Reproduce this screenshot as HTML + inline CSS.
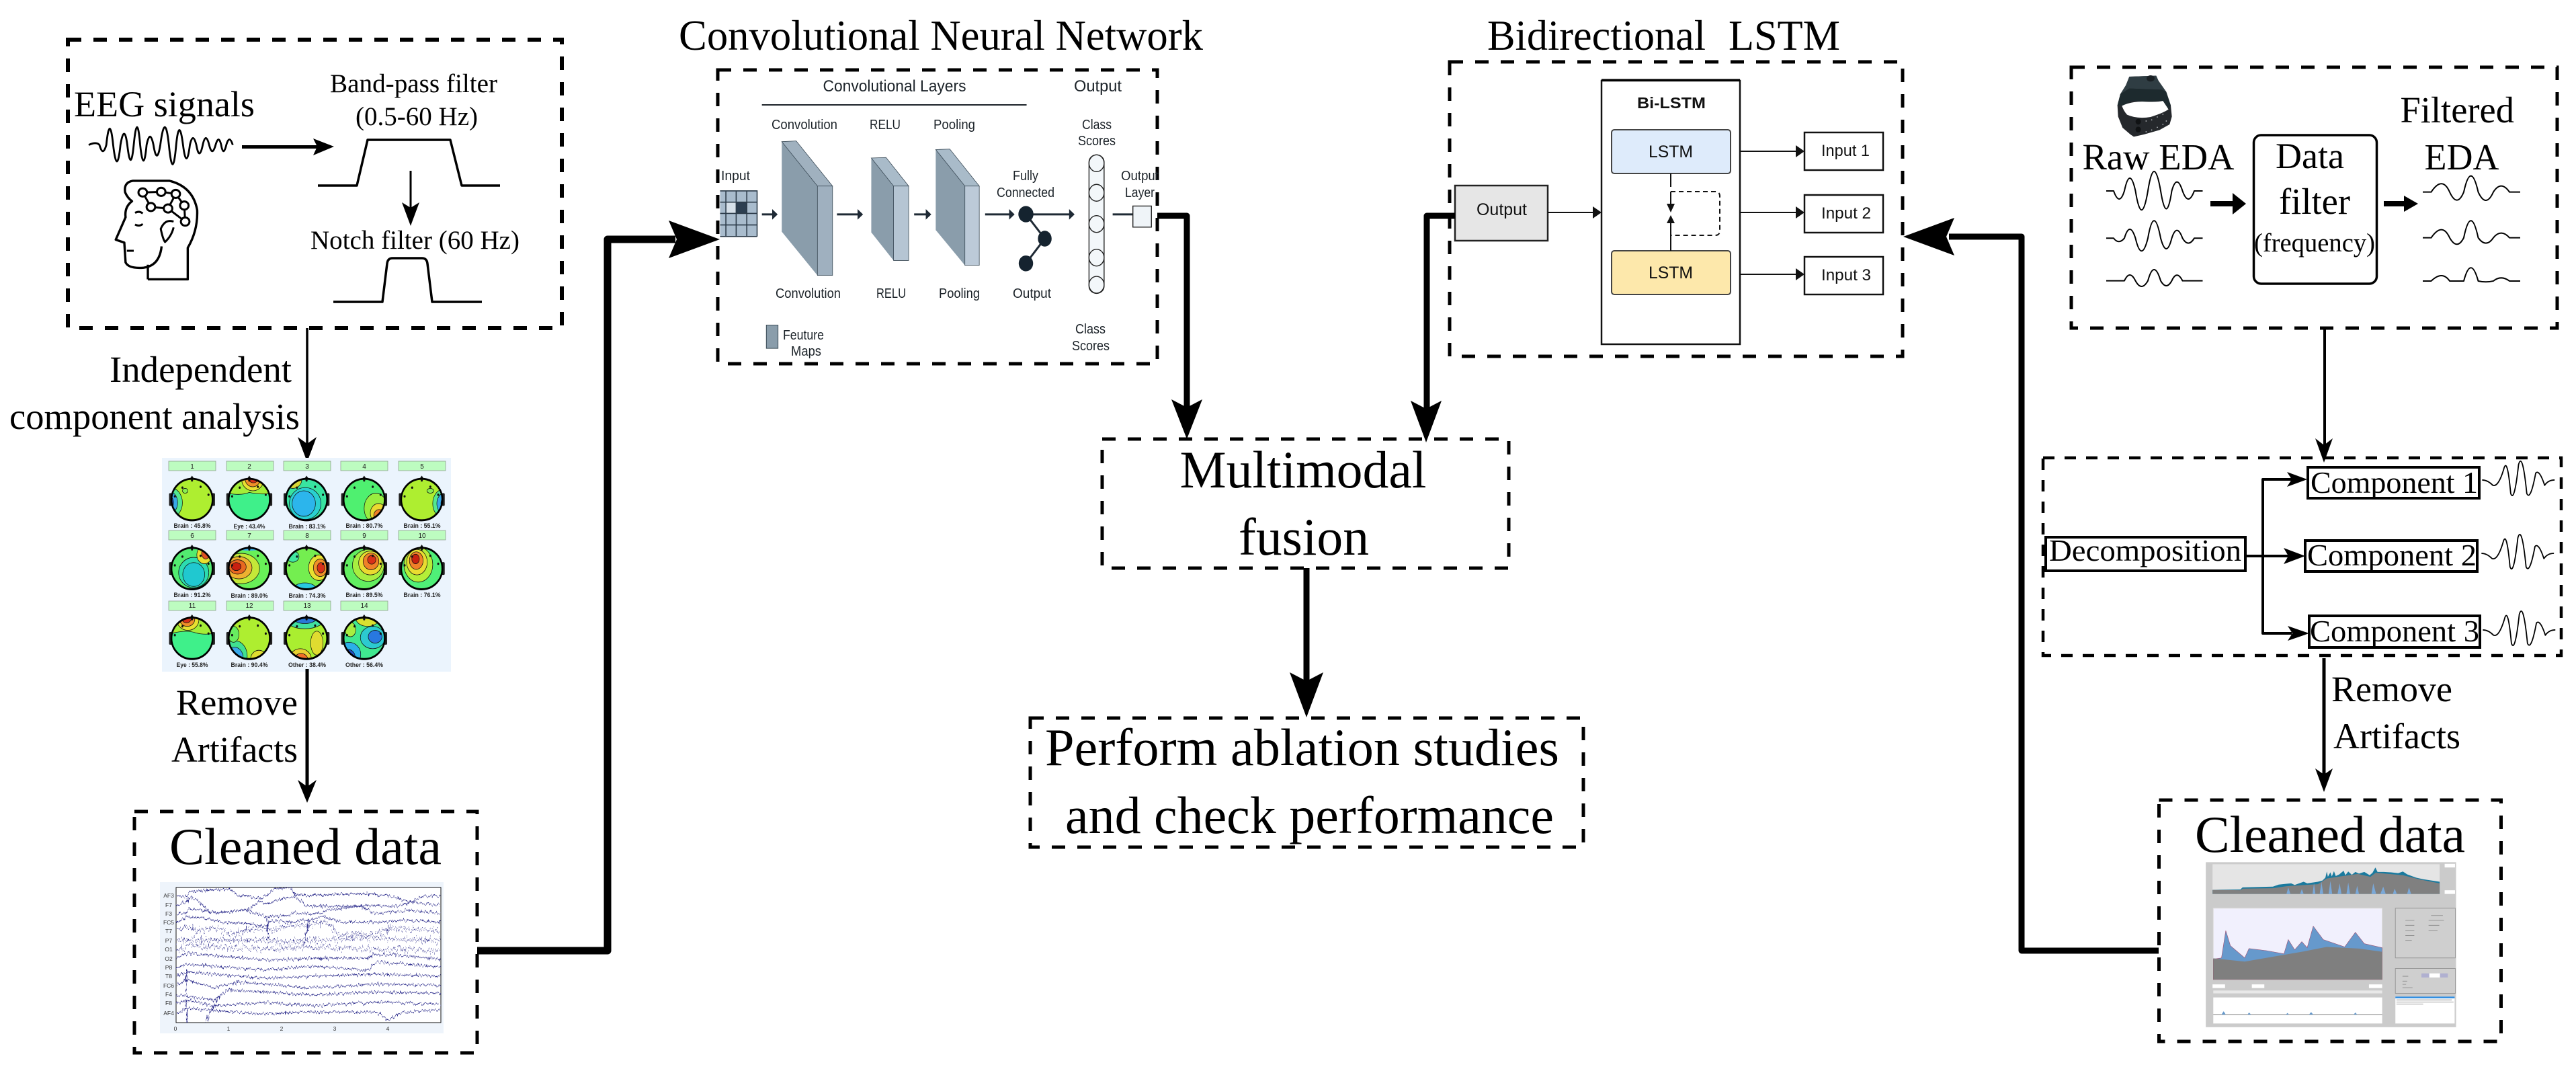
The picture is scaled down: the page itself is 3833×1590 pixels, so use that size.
<!DOCTYPE html>
<html lang="en">
<head>
<meta charset="utf-8">
<title>Multimodal fusion diagram</title>
<style>
html,body{margin:0;padding:0;background:#fff;width:3833px;height:1590px;overflow:hidden}
svg{display:block}
.t{font-family:"Liberation Serif",serif;fill:#000}
.s{font-family:"Liberation Sans",sans-serif;fill:#1c2329}
.d{fill:none;stroke:#000;stroke-width:5;stroke-dasharray:20 18}
.n *{vector-effect:non-scaling-stroke}
.l{fill:none;stroke:#000;stroke-linejoin:round;stroke-linecap:butt}
.b{stroke:#111;stroke-width:1.4}
</style>
</head>
<body>
<svg xmlns="http://www.w3.org/2000/svg" width="3833" height="1590" viewBox="0 0 3833 1590">
<defs>
<clipPath id="hc"><ellipse cx="0" cy="0" rx="60" ry="52"/></clipPath>
<clipPath id="ec"><rect x="262" y="1320" width="394" height="201"/></clipPath>
<filter id="noise" filterUnits="userSpaceOnUse" x="238" y="1312" width="422" height="225" color-interpolation-filters="sRGB">
<feTurbulence type="fractalNoise" baseFrequency="0.42 0.08" numOctaves="2" seed="4" result="n"/>
<feDisplacementMap in="SourceGraphic" in2="n" scale="10" xChannelSelector="G" yChannelSelector="R"/>
</filter>
<filter id="noise2" filterUnits="userSpaceOnUse" x="238" y="1312" width="422" height="225" color-interpolation-filters="sRGB">
<feTurbulence type="fractalNoise" baseFrequency="0.5 0.05" numOctaves="2" seed="9" result="n"/>
<feDisplacementMap in="SourceGraphic" in2="n" scale="22" xChannelSelector="G" yChannelSelector="R"/>
</filter>
<g id="o">
<path d="M-8,-50 L0,-60 L8,-50Z" fill="#111"/>
<rect x="-67" y="-16" width="9" height="32" rx="3" fill="#222"/>
<rect x="58" y="-16" width="9" height="32" rx="3" fill="#222"/>
<ellipse cx="0" cy="0" rx="60" ry="52" fill="none" stroke="#000" stroke-width="5"/>
<g fill="#111"><circle cx="-28" cy="-30" r="3"/><circle cx="25" cy="-32" r="3"/><circle cx="48" cy="-12" r="3"/><circle cx="-50" cy="-8" r="3"/><circle cx="0" cy="-48" r="3"/></g>
</g>
</defs>

<!-- EEG box -->
<rect class="d" style="stroke-width:6" x="101" y="59" width="735" height="429"/>
<text class="t" x="110" y="173" font-size="54" textLength="269" lengthAdjust="spacingAndGlyphs">EEG signals</text>
<text class="t" x="491" y="137" font-size="39" textLength="249" lengthAdjust="spacingAndGlyphs">Band-pass filter</text>
<text class="t" x="529" y="186" font-size="39" textLength="182" lengthAdjust="spacingAndGlyphs">(0.5-60 Hz)</text>
<text class="t" x="462" y="370" font-size="39" textLength="311" lengthAdjust="spacingAndGlyphs">Notch filter (60 Hz)</text>
<path class="l" stroke-width="3.5" d="M473,276H531L547,208H670L687,276H744"/>
<path class="l" stroke-width="3.5" d="M496,449H569L576,392Q577,384 584,384H628Q635,384 636,392L643,449H717"/>
<path d="M360,216H474V221H360Z"/><path d="M497,218L466,206L472,218L466,231Z"/>
<path class="l" stroke-width="3" d="M611,254V315"/><path d="M611,336L598,301L611,309L624,301Z"/>
<g class="n" transform="scale(.6378,.4337)">
<path class="l" style="stroke-width:2.8px" d="M207,497Q225,485 232,497Q240,540 248,497Q256,385 264,497Q273,610 281,497Q290,420 297,497Q305,600 312,497Q320,375 327,497Q335,605 342,497Q350,440 358,497Q366,570 374,497Q385,375 394,497Q403,630 411,497Q418,395 427,497Q435,590 443,497Q450,450 458,497Q465,555 473,497Q480,450 488,497Q495,540 503,497Q510,460 516,497Q521,540 528,497Q535,460 543,497"/>
<path class="l" style="stroke-width:3.4px" d="M345,958H438V850Q462,790 460,720Q450,640 395,620H310Q288,625 292,660Q298,680 308,690Q290,710 293,745L270,822L290,832L293,900Q300,922 335,918Q372,912 377,845M345,958V908"/>
<path class="l" style="stroke-width:3px" d="M296,860H312M315,730Q325,722 333,732M315,770Q325,778 333,768M405,760Q385,750 375,785Q380,820 385,830Q400,810 405,780"/>
<path class="l" style="stroke-width:3px" d="M333,660L376,658L410,665L430,705L432,760M410,665L392,715L352,710L333,660M392,715L432,760"/>
<g fill="#fff" stroke="#000" style="stroke-width:3px"><ellipse cx="333" cy="660" rx="10" ry="14"/><ellipse cx="376" cy="658" rx="10" ry="14"/><ellipse cx="410" cy="665" rx="10" ry="14"/><ellipse cx="430" cy="705" rx="10" ry="14"/><ellipse cx="352" cy="710" rx="10" ry="14"/><ellipse cx="392" cy="715" rx="10" ry="14"/><ellipse cx="432" cy="760" rx="10" ry="14"/></g>
</g>
<path class="l" stroke-width="3.5" d="M457,488V665"/><path d="M457,687L443,650L457,660L471,650Z"/>
<text class="t" x="163" y="568" font-size="55" textLength="271" lengthAdjust="spacingAndGlyphs">Independent</text>
<text class="t" x="14" y="638" font-size="55" textLength="432" lengthAdjust="spacingAndGlyphs">component analysis</text>

<!-- ICA image -->
<rect x="241" y="681" width="430" height="318" fill="#ebf4fd"/>
<g fill="#bdfcc0" stroke="#8fa08f" stroke-width=".8">
<rect x="251" y="686" width="70" height="14"/><rect x="337" y="686" width="70" height="14"/><rect x="422" y="686" width="70" height="14"/><rect x="507" y="686" width="70" height="14"/><rect x="593" y="686" width="70" height="14"/>
<rect x="251" y="789" width="70" height="14"/><rect x="337" y="789" width="70" height="14"/><rect x="422" y="789" width="70" height="14"/><rect x="507" y="789" width="70" height="14"/><rect x="593" y="789" width="70" height="14"/>
<rect x="251" y="894" width="70" height="14"/><rect x="337" y="894" width="70" height="14"/><rect x="422" y="894" width="70" height="14"/><rect x="507" y="894" width="70" height="14"/>
</g>
<g class="s" font-size="10" text-anchor="middle" style="fill:#222">
<text x="286" y="697">1</text><text x="371" y="697">2</text><text x="457" y="697">3</text><text x="542" y="697">4</text><text x="628" y="697">5</text>
<text x="286" y="800">6</text><text x="371" y="800">7</text><text x="457" y="800">8</text><text x="542" y="800">9</text><text x="628" y="800">10</text>
<text x="286" y="904">11</text><text x="371" y="904">12</text><text x="457" y="904">13</text><text x="542" y="904">14</text>
</g>
<g class="s" font-size="9.5" font-weight="bold" text-anchor="middle" style="fill:#222">
<text x="286" y="785" textLength="55" lengthAdjust="spacingAndGlyphs">Brain : 45.8%</text><text x="371" y="786" textLength="47" lengthAdjust="spacingAndGlyphs">Eye : 43.4%</text><text x="457" y="786" textLength="55" lengthAdjust="spacingAndGlyphs">Brain : 83.1%</text><text x="542" y="785" textLength="55" lengthAdjust="spacingAndGlyphs">Brain : 80.7%</text><text x="628" y="785" textLength="55" lengthAdjust="spacingAndGlyphs">Brain : 55.1%</text>
<text x="286" y="888" textLength="55" lengthAdjust="spacingAndGlyphs">Brain : 91.2%</text><text x="371" y="889" textLength="55" lengthAdjust="spacingAndGlyphs">Brain : 89.0%</text><text x="457" y="889" textLength="55" lengthAdjust="spacingAndGlyphs">Brain : 74.3%</text><text x="542" y="888" textLength="55" lengthAdjust="spacingAndGlyphs">Brain : 89.5%</text><text x="628" y="888" textLength="55" lengthAdjust="spacingAndGlyphs">Brain : 76.1%</text>
<text x="286" y="992" textLength="47" lengthAdjust="spacingAndGlyphs">Eye : 55.8%</text><text x="371" y="992" textLength="55" lengthAdjust="spacingAndGlyphs">Brain : 90.4%</text><text x="457" y="992" textLength="56" lengthAdjust="spacingAndGlyphs">Other : 38.4%</text><text x="542" y="992" textLength="56" lengthAdjust="spacingAndGlyphs">Other : 56.4%</text>
</g>
<g transform="translate(150,660) scale(.5102,.5931)">
<g transform="translate(266,140)"><g clip-path="url(#hc)"><rect x="-60" y="-52" width="120" height="104" fill="#aeee30"/><ellipse class="b" cx="-64" cy="8" rx="36" ry="38" fill="#52e890"/><ellipse class="b" cx="-66" cy="8" rx="24" ry="28" fill="#38a8e8"/><ellipse class="b" cx="-68" cy="8" rx="14" ry="18" fill="#2050c0"/><ellipse class="b" cx="-20" cy="-22" rx="8" ry="6" fill="#88ee50"/></g><use href="#o"/></g>
<g transform="translate(433,140)"><g clip-path="url(#hc)"><rect x="-60" y="-52" width="120" height="104" fill="#3ff08a"/><path class="b" d="M-60,-15Q-20,-10 0,-18Q30,-12 60,-15V-60H-60Z" fill="#a4ee38"/><ellipse class="b" cx="10" cy="-50" rx="32" ry="28" fill="#e8e030"/><ellipse class="b" cx="10" cy="-52" rx="22" ry="20" fill="#f09028"/><ellipse class="b" cx="12" cy="-54" rx="14" ry="12" fill="#d83018"/></g><use href="#o"/></g>
<g transform="translate(600,140)"><g clip-path="url(#hc)"><rect x="-60" y="-52" width="120" height="104" fill="#38e4a0"/><ellipse class="b" cx="-4" cy="10" rx="46" ry="40" fill="#2ad0d0"/><ellipse class="b" cx="-8" cy="10" rx="34" ry="32" fill="#2cb5ec"/><ellipse class="b" cx="-40" cy="-50" rx="26" ry="22" fill="#d8d838"/><ellipse class="b" cx="-44" cy="-52" rx="16" ry="14" fill="#e04020"/></g><use href="#o"/></g>
<g transform="translate(768,140)"><g clip-path="url(#hc)"><rect x="-60" y="-52" width="120" height="104" fill="#4ff070"/><ellipse class="b" cx="34" cy="22" rx="34" ry="38" fill="#98ee40"/><ellipse class="b" cx="42" cy="34" rx="24" ry="24" fill="#eada30"/><ellipse class="b" cx="44" cy="40" rx="16" ry="15" fill="#f08028"/><ellipse class="b" cx="46" cy="44" rx="9" ry="9" fill="#d83018"/></g><use href="#o"/></g>
<g transform="translate(936,140)"><g clip-path="url(#hc)"><rect x="-60" y="-52" width="120" height="104" fill="#aeee30"/><ellipse class="b" cx="64" cy="10" rx="32" ry="36" fill="#52e890"/><ellipse class="b" cx="66" cy="10" rx="22" ry="26" fill="#38a8e8"/><ellipse class="b" cx="68" cy="10" rx="12" ry="16" fill="#2050c0"/><ellipse class="b" cx="25" cy="-22" rx="10" ry="6" fill="#88ee50"/></g><use href="#o"/></g>

<g transform="translate(266,313)"><g clip-path="url(#hc)"><rect x="-60" y="-52" width="120" height="104" fill="#52ec70"/><ellipse class="b" cx="5" cy="10" rx="44" ry="38" fill="#2cdcb0"/><ellipse class="b" cx="5" cy="15" rx="32" ry="30" fill="#20c8d0"/><ellipse class="b" cx="36" cy="-34" rx="22" ry="22" fill="#e8e030"/><ellipse class="b" cx="40" cy="-38" rx="12" ry="14" fill="#e05020"/></g><use href="#o"/></g>
<g transform="translate(433,313)"><g clip-path="url(#hc)"><rect x="-60" y="-52" width="120" height="104" fill="#68f058"/><ellipse class="b" cx="-24" cy="0" rx="54" ry="38" fill="#c4e838"/><ellipse class="b" cx="-30" cy="-2" rx="38" ry="28" fill="#eeb030"/><ellipse class="b" cx="-34" cy="-4" rx="25" ry="18" fill="#e86820"/><ellipse class="b" cx="-38" cy="-5" rx="14" ry="10" fill="#c82010"/><ellipse cx="0" cy="-55" rx="50" ry="10" fill="#38b0e8"/></g><use href="#o"/></g>
<g transform="translate(600,313)"><g clip-path="url(#hc)"><rect x="-60" y="-52" width="120" height="104" fill="#74ee50"/><ellipse class="b" cx="36" cy="-2" rx="30" ry="32" fill="#e8e030"/><ellipse class="b" cx="40" cy="-2" rx="20" ry="22" fill="#f09028"/><ellipse class="b" cx="42" cy="-2" rx="11" ry="13" fill="#d83018"/><ellipse class="b" cx="-5" cy="50" rx="32" ry="14" fill="#28c8e0"/><ellipse class="b" cx="-40" cy="-30" rx="18" ry="14" fill="#40e8a0"/></g><use href="#o"/></g>
<g transform="translate(768,313)"><g clip-path="url(#hc)"><rect x="-60" y="-52" width="120" height="104" fill="#62ee60"/><ellipse class="b" cx="12" cy="-8" rx="46" ry="40" fill="#a8ee40"/><ellipse class="b" cx="18" cy="-14" rx="34" ry="30" fill="#eada30"/><ellipse class="b" cx="20" cy="-18" rx="23" ry="21" fill="#f08028"/><ellipse class="b" cx="22" cy="-22" rx="12" ry="11" fill="#d83018"/></g><use href="#o"/></g>
<g transform="translate(936,313)"><g clip-path="url(#hc)"><rect x="-60" y="-52" width="120" height="104" fill="#4ff078"/><ellipse class="b" cx="-10" cy="-10" rx="42" ry="44" fill="#b4ee38"/><ellipse class="b" cx="-14" cy="-16" rx="30" ry="32" fill="#eadc30"/><ellipse class="b" cx="-16" cy="-20" rx="20" ry="22" fill="#f08028"/><ellipse class="b" cx="-18" cy="-24" rx="11" ry="12" fill="#c82010"/></g><use href="#o"/></g>

<g transform="translate(266,488)"><g clip-path="url(#hc)"><rect x="-60" y="-52" width="120" height="104" fill="#3ff08a"/><path class="b" d="M-60,-12Q-20,-22 10,-14Q35,-8 60,-12V-60H-60Z" fill="#a4ee38"/><ellipse class="b" cx="-12" cy="-46" rx="32" ry="26" fill="#e8e030"/><ellipse class="b" cx="-14" cy="-48" rx="22" ry="18" fill="#f09028"/><ellipse class="b" cx="-16" cy="-50" rx="14" ry="11" fill="#d83018"/></g><use href="#o"/></g>
<g transform="translate(433,488)"><g clip-path="url(#hc)"><rect x="-60" y="-52" width="120" height="104" fill="#aeee30"/><ellipse class="b" cx="-42" cy="44" rx="36" ry="38" fill="#40e090"/><ellipse class="b" cx="-44" cy="48" rx="26" ry="26" fill="#38a8e8"/><ellipse class="b" cx="-46" cy="52" rx="16" ry="15" fill="#2050c0"/><ellipse class="b" cx="28" cy="52" rx="24" ry="22" fill="#e0dc30"/><ellipse class="b" cx="-46" cy="-10" rx="16" ry="20" fill="#68ec60"/></g><use href="#o"/></g>
<g transform="translate(600,488)"><g clip-path="url(#hc)"><rect x="-60" y="-52" width="120" height="104" fill="#aaee30"/><ellipse class="b" cx="-5" cy="-52" rx="60" ry="28" fill="#40e0a0"/><ellipse class="b" cx="-5" cy="-55" rx="38" ry="18" fill="#2878d8"/><ellipse class="b" cx="-18" cy="52" rx="32" ry="26" fill="#e8d030"/><ellipse class="b" cx="-16" cy="54" rx="20" ry="16" fill="#f07028"/><ellipse class="b" cx="30" cy="12" rx="18" ry="30" fill="#e0dc30"/></g><use href="#o"/></g>
<g transform="translate(768,488)"><g clip-path="url(#hc)"><rect x="-60" y="-52" width="120" height="104" fill="#40e890"/><ellipse class="b" cx="25" cy="-2" rx="36" ry="28" fill="#2ccad0"/><ellipse class="b" cx="32" cy="-4" rx="20" ry="16" fill="#2878e0"/><ellipse class="b" cx="-44" cy="40" rx="34" ry="30" fill="#2cb0e8"/><ellipse class="b" cx="-46" cy="48" rx="20" ry="20" fill="#2050c0"/><ellipse class="b" cx="10" cy="-50" rx="34" ry="20" fill="#d8e030"/><ellipse class="b" cx="-40" cy="-22" rx="16" ry="18" fill="#a8ee40"/></g><use href="#o"/></g>
</g>

<path class="l" stroke-width="5" d="M457,995V1170"/><path d="M457,1194L443,1160L457,1170L471,1160Z"/>
<text class="t" x="262" y="1063" font-size="54" textLength="181" lengthAdjust="spacingAndGlyphs">Remove</text>
<text class="t" x="255" y="1133" font-size="54" textLength="188" lengthAdjust="spacingAndGlyphs">Artifacts</text>

<!-- Cleaned EEG -->
<rect class="d" x="200" y="1207" width="510" height="359"/>
<text class="t" x="252" y="1285" font-size="77" textLength="405" lengthAdjust="spacingAndGlyphs">Cleaned data</text>
<rect x="238" y="1312" width="422" height="225" fill="#eef4fb"/>
<rect x="262" y="1320" width="394" height="201" fill="#fff" stroke="#111" stroke-width="1"/>
<g clip-path="url(#ec)">
<g filter="url(#noise)"><g class="n" transform="translate(150,660) scale(.5102,.5931)" fill="none" stroke="#2c2c8c" style="stroke-width:1.2px">
<polyline points="219,1135 249,1135 259,1123 376,1116 396,1132 468,1141 507,1116 553,1113 566,1132 650,1132 760,1128 850,1135 900,1150 940,1135 990,1135"/>
<polyline points="219,1155 249,1152 255,1138 282,1144 317,1175 357,1175 428,1169 461,1147 494,1152 527,1141 566,1135 595,1158 620,1160 700,1160 780,1158 860,1160 910,1150 990,1158"/>
<polyline points="219,1180 249,1177 255,1166 291,1169 331,1177 422,1169 481,1186 546,1183 566,1175 611,1180 700,1165 760,1160 800,1178 900,1170 990,1178"/>
<polyline points="219,1200 252,1186 298,1189 350,1200 428,1203 481,1211 494,1197 566,1200 611,1194 650,1185 700,1200 800,1200 900,1195 990,1200"/>
<polyline points="219,1290 255,1278 480,1295 620,1290 780,1290 800,1280 860,1282 990,1292"/>
<polyline points="219,1315 250,1305 480,1320 620,1310 780,1320 800,1300 990,1312"/>
<polyline points="219,1335 250,1325 480,1340 620,1335 800,1330 990,1335"/>
<polyline points="219,1360 250,1345 330,1365 400,1350 480,1355 600,1365 800,1355 990,1358"/>
<polyline points="219,1382 250,1385 330,1395 370,1370 480,1375 620,1382 800,1375 990,1378"/>
<polyline points="219,1405 250,1395 330,1410 480,1400 620,1410 800,1400 990,1405"/>
<polyline points="219,1430 250,1415 310,1420 480,1430 620,1425 800,1425 840,1445 880,1425 990,1420"/>
<polyline points="250,1320 250,1452"/><polyline points="305,1452 345,1385"/><polyline points="487,1186 487,1265"/><polyline points="608,1192 592,1259"/>
</g></g>
<g filter="url(#noise2)"><g class="n" transform="translate(150,660) scale(.5102,.5931)" fill="none" stroke="#2c2c8c" style="stroke-width:1.2px">
<polyline points="219,1220 252,1211 285,1222 317,1214 350,1217 389,1231 428,1217 481,1217 500,1220 546,1208 611,1205 660,1200 690,1230 800,1230 840,1215 990,1222"/>
<polyline points="219,1245 300,1245 480,1245 540,1250 600,1245 800,1240 990,1247"/>
<polyline points="219,1268 260,1258 480,1268 600,1262 800,1268 990,1270"/>
</g></g>
</g>
<g class="s" font-size="8.5" text-anchor="middle" style="fill:#333">
<text x="251" y="1335">AF3</text><text x="251" y="1349">F7</text><text x="251" y="1362">F3</text><text x="251" y="1375">FC5</text><text x="251" y="1388">T7</text><text x="251" y="1402">P7</text><text x="251" y="1415">O1</text><text x="251" y="1429">O2</text><text x="251" y="1442">P8</text><text x="251" y="1455">T8</text><text x="251" y="1469">FC6</text><text x="251" y="1482">F4</text><text x="251" y="1495">F8</text><text x="251" y="1510">AF4</text>
<text x="261" y="1533">0</text><text x="340" y="1533">1</text><text x="419" y="1533">2</text><text x="498" y="1533">3</text><text x="577" y="1533">4</text>
</g>

<!-- Thick connector left -->
<path class="l" stroke-width="11" stroke-linejoin="miter" d="M710,1414H904V356H1005"/>
<path d="M1071,356L995,328L1007,356L995,384Z"/>

<!-- CNN -->
<text class="t" x="1010" y="74" font-size="63" textLength="780" lengthAdjust="spacingAndGlyphs">Convolutional Neural Network</text>
<rect class="d" x="1068" y="104" width="654" height="437"/>
<g class="s" font-size="20">
<text x="1224.5" y="136" font-size="24" textLength="213" lengthAdjust="spacingAndGlyphs">Convolutional Layers</text>
<text x="1598" y="136" font-size="24" textLength="71" lengthAdjust="spacingAndGlyphs">Output</text>
<text x="1148" y="192" textLength="98" lengthAdjust="spacingAndGlyphs">Convolution</text>
<text x="1294" y="192" textLength="46" lengthAdjust="spacingAndGlyphs">RELU</text>
<text x="1389" y="192" textLength="62" lengthAdjust="spacingAndGlyphs">Pooling</text>
<text x="1610" y="192" textLength="44" lengthAdjust="spacingAndGlyphs">Class</text>
<text x="1604" y="216" textLength="56" lengthAdjust="spacingAndGlyphs">Scores</text>
<text x="1073" y="268" textLength="43" lengthAdjust="spacingAndGlyphs">Input</text>
<text x="1507" y="268" textLength="38" lengthAdjust="spacingAndGlyphs">Fully</text>
<text x="1483" y="293" textLength="86" lengthAdjust="spacingAndGlyphs">Connected</text>
<text x="1668" y="268" textLength="56" lengthAdjust="spacingAndGlyphs">Output</text>
<text x="1674" y="293" textLength="44" lengthAdjust="spacingAndGlyphs">Layer</text>
<text x="1154" y="443" textLength="97" lengthAdjust="spacingAndGlyphs">Convolution</text>
<text x="1304" y="443" textLength="44" lengthAdjust="spacingAndGlyphs">RELU</text>
<text x="1397" y="443" textLength="61" lengthAdjust="spacingAndGlyphs">Pooling</text>
<text x="1507" y="443" textLength="57" lengthAdjust="spacingAndGlyphs">Output</text>
<text x="1165" y="505" textLength="61" lengthAdjust="spacingAndGlyphs">Feuture</text>
<text x="1177" y="529" textLength="45" lengthAdjust="spacingAndGlyphs">Maps</text>
<text x="1600" y="496" textLength="45" lengthAdjust="spacingAndGlyphs">Class</text>
<text x="1595" y="521" textLength="56" lengthAdjust="spacingAndGlyphs">Scores</text>
</g>
<g class="n" transform="translate(1000,0) scale(.5102,.3571)">
<path d="M262,437H1034" stroke="#1c2329" style="stroke-width:2px"/>
<rect x="140" y="793" width="108" height="192" fill="#a9bccd"/>
<rect x="157" y="842" width="30" height="47" fill="#d6e0e9"/>
<rect x="187" y="842" width="31" height="47" fill="#2c3e50"/>
<path d="M157,793V985M187,793V985M218,793V985M248,793V985M140,795H248M140,842H248M140,889H248M140,937H248M140,985H248" stroke="#2b3a48" fill="none" style="stroke-width:1.6px"/>
<path d="M320,590L424,775V1147L320,965Z" fill="#8a9dab"/>
<path d="M320,590L362,587L468,775H424Z" fill="#a0b1bf" stroke="#3a4a56" style="stroke-width:.8px"/>
<path d="M424,775H468V1147H424Z" fill="#9fb0bf" stroke="#3a4a56" style="stroke-width:.8px"/>
<path d="M581,658L646,775V1085L581,968Z" fill="#8a9dab"/>
<path d="M581,658L624,656L690,775H646Z" fill="#a9bbc9" stroke="#3a4a56" style="stroke-width:.8px"/>
<path d="M646,775H690V1085H646Z" fill="#b5c5d3" stroke="#3a4a56" style="stroke-width:.8px"/>
<path d="M769,623L854,775V1105L769,958Z" fill="#8a9dab"/>
<path d="M769,623L810,621L896,775H854Z" fill="#a9bbc9" stroke="#3a4a56" style="stroke-width:.8px"/>
<path d="M854,775H896V1105H854Z" fill="#bccad8" stroke="#3a4a56" style="stroke-width:.8px"/>
<g fill="none" stroke="#1f2a35" style="stroke-width:3px"><path d="M262,893H300M481,893H548M706,893H747M913,893H990M1050,893H1165"/><path d="M1032,892L1087,994L1032,1097"/><path d="M1285,893H1345"/></g>
<g fill="#1f2a35"><path d="M308,893L292,871V915Z"/><path d="M557,893L541,871V915Z"/><path d="M756,893L740,871V915Z"/><path d="M999,893L983,871V915Z"/><path d="M1174,893L1158,871V915Z"/></g>
<g fill="#15232f"><ellipse cx="1032" cy="892" rx="22" ry="34"/><ellipse cx="1087" cy="994" rx="20" ry="33"/><ellipse cx="1032" cy="1097" rx="21" ry="33"/></g>
<rect x="1216" y="645" width="44" height="577" rx="22" ry="30" fill="#f3f7fa" stroke="#222" style="stroke-width:1.4px"/>
<g fill="#f3f7fa" stroke="#222" style="stroke-width:1.4px"><ellipse cx="1238" cy="680" rx="22" ry="35"/><ellipse cx="1238" cy="803" rx="22" ry="35"/><ellipse cx="1238" cy="933" rx="22" ry="35"/><ellipse cx="1238" cy="1073" rx="22" ry="35"/><ellipse cx="1238" cy="1186" rx="22" ry="35"/></g>
<rect x="1344" y="858" width="54" height="88" fill="#eff4f8" stroke="#222" style="stroke-width:1.4px"/>
<rect x="275" y="1354" width="34" height="97" fill="#8a9dab" stroke="#3a4a56" style="stroke-width:1px"/>
</g>
<path class="l" stroke-width="9" stroke-linejoin="miter" d="M1722,321H1766V610"/>
<path d="M1766,653L1743,594L1766,606L1789,594Z"/>

<!-- BiLSTM -->
<text class="t" x="2213" y="74" font-size="63" textLength="325" lengthAdjust="spacingAndGlyphs">Bidirectional</text>
<text class="t" x="2572" y="74" font-size="63" textLength="166" lengthAdjust="spacingAndGlyphs">LSTM</text>
<rect class="d" x="2157" y="92" width="674" height="438"/>
<rect x="2165" y="276" width="138" height="82" fill="#e6e6e6" stroke="#222" stroke-width="2.5"/>
<rect x="2383" y="120" width="206" height="392" fill="#fff" stroke="#111" stroke-width="2.5"/>
<path d="M2383,119H2589" stroke="#000" stroke-width="3"/>
<rect x="2398" y="193" width="177" height="65" rx="4" fill="#deebfb" stroke="#444" stroke-width="2"/>
<rect x="2398" y="373" width="177" height="65" rx="4" fill="#fde8ab" stroke="#444" stroke-width="2"/>
<rect x="2685" y="197" width="117" height="56" fill="#fff" stroke="#111" stroke-width="2.5"/>
<rect x="2685" y="290" width="117" height="56" fill="#fff" stroke="#111" stroke-width="2.5"/>
<rect x="2685" y="382" width="117" height="56" fill="#fff" stroke="#111" stroke-width="2.5"/>
<g class="s" style="fill:#111">
<text x="2197" y="320" font-size="25" textLength="75" lengthAdjust="spacingAndGlyphs">Output</text>
<text x="2436" y="161" font-size="23" font-weight="bold" textLength="102" lengthAdjust="spacingAndGlyphs">Bi-LSTM</text>
<text x="2453" y="234" font-size="25" textLength="66" lengthAdjust="spacingAndGlyphs">LSTM</text>
<text x="2453" y="414" font-size="25" textLength="66" lengthAdjust="spacingAndGlyphs">LSTM</text>
<text x="2710" y="232" font-size="24" textLength="72" lengthAdjust="spacingAndGlyphs">Input 1</text>
<text x="2710" y="325" font-size="24" textLength="74" lengthAdjust="spacingAndGlyphs">Input 2</text>
<text x="2710" y="417" font-size="24" textLength="74" lengthAdjust="spacingAndGlyphs">Input 3</text>
</g>
<g fill="none" stroke="#111" stroke-width="2">
<path d="M2303,316H2375M2589,225H2678M2589,316H2678M2589,408H2678"/>
<path d="M2486,258V278M2486,285V310M2486,373V325"/>
<path d="M2486,285H2552Q2559,285 2559,292V343Q2559,350 2552,350H2486" stroke-dasharray="7 5"/>
</g>
<g fill="#111"><path d="M2383,316L2370,307V325Z"/><path d="M2685,225L2672,216V234Z"/><path d="M2685,316L2672,307V325Z"/><path d="M2685,408L2672,399V417Z"/><path d="M2486,316L2480,303H2492Z"/><path d="M2486,320L2480,332H2492Z"/></g>
<path class="l" stroke-width="9" stroke-linejoin="miter" d="M2165,321H2123V612"/>
<path d="M2122,658L2099,596L2122,608L2145,596Z"/>

<!-- Multimodal -->
<rect class="d" x="1640" y="653" width="605" height="192"/>
<text class="t" x="1755.5" y="725" font-size="78" textLength="367" lengthAdjust="spacingAndGlyphs">Multimodal</text>
<text class="t" x="1843" y="825" font-size="78" textLength="194" lengthAdjust="spacingAndGlyphs">fusion</text>
<path class="l" stroke-width="9" d="M1944,845V1020"/>
<path d="M1944,1067L1919,1000L1944,1013L1969,1000Z"/>
<rect class="d" x="1533" y="1068" width="823" height="192"/>
<text class="t" x="1555" y="1138" font-size="78" textLength="765" lengthAdjust="spacingAndGlyphs">Perform ablation studies</text>
<text class="t" x="1585" y="1239" font-size="78" textLength="727" lengthAdjust="spacingAndGlyphs">and check performance</text>

<!-- EDA -->
<rect class="d" x="3082" y="100" width="723" height="388"/>
<g class="n" transform="translate(3130,100) scale(.3333)">
<path fill-rule="evenodd" fill="#25282c" d="M115,42L235,38L245,60L280,110L300,170L305,220L295,255L250,280L180,300L135,310L120,300L85,270L65,220L62,170L75,120L100,80ZM82,172Q130,150 190,154Q245,156 265,150Q282,170 290,188Q265,205 210,222Q150,232 105,212Q90,195 82,172Z"/>
<path fill="#2f3d43" d="M115,42L235,38L245,60L280,110L260,100L115,95L75,120L100,80Z"/>
<path fill="#1d2a2e" d="M115,95L260,100L280,110L300,170L290,188L265,150Q190,156 130,150L82,172L62,170L75,120Z"/>
<ellipse cx="210" cy="50" rx="18" ry="14" fill="#192024"/>
<ellipse cx="155" cy="243" rx="12" ry="13" fill="#101214"/><ellipse cx="155" cy="278" rx="12" ry="13" fill="#101214"/>
<g fill="#c8ccd0"><circle cx="190" cy="240" r="2.5"/><circle cx="215" cy="235" r="2.5"/><circle cx="240" cy="222" r="2.5"/><circle cx="265" cy="210" r="2.5"/><circle cx="190" cy="288" r="2.5"/><circle cx="215" cy="280" r="2.5"/><circle cx="240" cy="268" r="2.5"/><circle cx="265" cy="255" r="2.5"/><circle cx="280" cy="240" r="2.5"/></g>
</g>
<text class="t" x="3098.5" y="252" font-size="55" textLength="226" lengthAdjust="spacingAndGlyphs">Raw EDA</text>
<rect x="3353.5" y="201" width="183" height="221" rx="11" fill="none" stroke="#000" stroke-width="3.5"/>
<text class="t" x="3386" y="250" font-size="54" textLength="102" lengthAdjust="spacingAndGlyphs">Data</text>
<text class="t" x="3391" y="318" font-size="55" textLength="106" lengthAdjust="spacingAndGlyphs">filter</text>
<text class="t" x="3354" y="374" font-size="39" textLength="180" lengthAdjust="spacingAndGlyphs">(frequency)</text>
<text class="t" x="3571.5" y="182" font-size="55" textLength="169.5" lengthAdjust="spacingAndGlyphs">Filtered</text>
<text class="t" x="3607.5" y="252" font-size="55" textLength="111" lengthAdjust="spacingAndGlyphs">EDA</text>
<g class="n" transform="translate(3050,60) scale(.5,.3333)">
<g class="l" style="stroke-width:2px">
<path d="M168,672H190Q207,744 222,672Q238,558 255,672Q273,842 292,672Q310,498 330,672Q347,832 363,672Q378,592 395,672Q412,744 430,672H455"/>
<path d="M168,883H190Q205,913 222,883Q238,803 255,883Q273,997 292,883Q310,727 330,883Q347,977 363,883Q378,813 395,883Q412,927 430,883H455"/>
<path d="M168,1073H222Q238,1021 255,1073Q273,1123 292,1073Q310,973 330,1073Q347,1117 363,1073Q378,1023 395,1073H455"/>
<path d="M1110,677H1135Q1168,603 1190,677Q1212,749 1232,677Q1253,533 1275,677Q1298,751 1320,677Q1343,623 1368,677H1400"/>
<path d="M1110,881H1135Q1168,809 1190,881Q1212,939 1232,881Q1253,729 1275,881Q1298,929 1320,881Q1343,839 1368,881H1400"/>
<path d="M1110,1074H1135Q1168,1026 1190,1074Q1212,1074 1232,1074Q1253,956 1275,1074Q1298,1082 1320,1074Q1343,1046 1368,1074H1400"/>
</g>
</g>
<path d="M3289,299H3322V287L3342,303L3322,319V307H3289Z"/>
<path d="M3547,299H3577V291L3598,303L3577,315V307H3547Z"/>
<path class="l" stroke-width="4" d="M3459,488V670"/><path d="M3458,688L3445,652L3458,662L3471,652Z"/>

<!-- Decomposition -->
<rect class="d" style="stroke-dasharray:17 15;stroke-width:4.5" x="3040" y="681" width="771" height="294"/>
<g fill="#fff" stroke="#000" stroke-width="4">
<rect x="3434" y="695" width="255" height="46"/><rect x="3430" y="804" width="256" height="46"/><rect x="3436" y="916" width="254" height="47"/><rect x="3044" y="799" width="297" height="50"/>
</g>
<text class="t" x="3438" y="733" font-size="46" textLength="249" lengthAdjust="spacingAndGlyphs">Component 1</text>
<text class="t" x="3433" y="841" font-size="46" textLength="252" lengthAdjust="spacingAndGlyphs">Component 2</text>
<text class="t" x="3437" y="954" font-size="46" textLength="252" lengthAdjust="spacingAndGlyphs">Component 3</text>
<text class="t" x="3049" y="834" font-size="46" textLength="286" lengthAdjust="spacingAndGlyphs">Decomposition</text>
<path class="l" stroke-width="4" d="M3341,827H3410M3410,713H3367V942H3410"/>
<path d="M3433,713L3403,702L3410,713L3403,724Z"/><path d="M3430,827L3398,815L3405,827L3398,839Z"/><path d="M3436,942L3404,931L3411,942L3404,953Z"/>
<g class="n" transform="translate(3000,640) scale(.5313,.606)">
<path class="l" style="stroke-width:1.8px" d="M1305,122Q1320,122 1335,135Q1350,140 1365,97Q1375,60 1385,155Q1395,180 1407,84Q1418,50 1430,155Q1440,175 1455,105Q1465,95 1480,135Q1490,122 1508,122"/>
<path class="l" style="stroke-width:1.8px" transform="translate(-2,180)" d="M1305,122Q1320,122 1335,135Q1350,140 1365,97Q1375,60 1385,155Q1395,180 1407,84Q1418,50 1430,155Q1440,175 1455,105Q1465,95 1480,135Q1490,122 1508,122"/>
<path class="l" style="stroke-width:1.8px" transform="translate(2,368)" d="M1305,122Q1320,122 1335,135Q1350,140 1365,97Q1375,60 1385,155Q1395,180 1407,84Q1418,50 1430,155Q1440,175 1455,105Q1465,95 1480,135Q1490,122 1508,122"/>
</g>
<path class="l" stroke-width="5" d="M3458,979V1155"/><path d="M3458,1178L3445,1143L3458,1152L3471,1143Z"/>
<text class="t" x="3469" y="1043" font-size="54" textLength="180" lengthAdjust="spacingAndGlyphs">Remove</text>
<text class="t" x="3472" y="1113" font-size="54" textLength="189" lengthAdjust="spacingAndGlyphs">Artifacts</text>

<!-- Cleaned EDA -->
<rect class="d" x="3212.5" y="1190" width="509" height="359"/>
<text class="t" x="3266" y="1267" font-size="77" textLength="402" lengthAdjust="spacingAndGlyphs">Cleaned data</text>
<g class="n" transform="translate(3000,640) scale(.5313,.606)">
<rect x="531" y="1060" width="701" height="405" fill="#cbcbcb"/>
<rect x="550" y="1065" width="636" height="73" fill="#e5e5e5"/>
<polygon fill="#1a7a9e" points="550,1128 628,1127 634,1122 719,1120 735,1115 757,1113 770,1112 780,1116 805,1108 815,1112 845,1108 858,1105 866,1098 870,1083 873,1096 880,1085 884,1095 890,1082 895,1094 905,1090 917,1081 922,1092 930,1083 940,1091 950,1084 960,1088 975,1084 990,1092 998,1086 1006,1073 1012,1084 1030,1084 1050,1085 1070,1087 1083,1083 1095,1090 1120,1098 1140,1102 1186,1108 1186,1138 550,1138"/>
<polygon fill="#808080" points="550,1128 628,1129 634,1125 719,1124 757,1119 845,1114 870,1100 907,1095 957,1089 992,1096 1007,1086 1083,1092 1133,1103 1186,1112 1186,1138 550,1138"/>
<polygon fill="#7aa8d8" points="757,1138 762,1122 768,1138 795,1138 800,1126 805,1138 830,1138 834,1112 838,1138 850,1138 855,1108 860,1138 875,1138 880,1106 885,1138 900,1138 906,1112 911,1138 925,1138 930,1110 935,1138 950,1138 955,1118 960,1138 995,1138 1000,1112 1008,1138 1020,1138 1028,1120 1035,1138 1055,1138 1060,1125 1066,1138 1095,1138 1100,1122 1106,1138"/>
<rect x="1200" y="1064" width="29" height="9" fill="#fff"/><rect x="1200" y="1129" width="29" height="9" fill="#fff"/>
<rect x="552" y="1173" width="473" height="175" fill="#f1f0fd" stroke="#ddd" style="stroke-width:1px"/>
<polygon fill="#6699cc" stroke="#a05070" style="stroke-width:.6px" points="552,1298 575,1295 587,1228 600,1265 640,1295 652,1272 700,1277 750,1285 762,1250 780,1275 800,1255 815,1270 832,1217 860,1250 920,1268 950,1232 975,1260 1025,1270 1025,1348 552,1348"/>
<polygon fill="#7f7f7f" points="552,1296 640,1304 700,1295 800,1280 870,1268 960,1272 1025,1280 1025,1348 552,1348"/>
<g fill="#fff"><rect x="550" y="1360" width="35" height="9"/><rect x="660" y="1360" width="35" height="9"/><rect x="988" y="1360" width="37" height="9"/></g>
<rect x="552" y="1375" width="473" height="7" fill="#e8e8e8"/>
<rect x="552" y="1392" width="473" height="64" fill="#fff"/>
<path d="M552,1434H1025" stroke="#555" fill="none" style="stroke-width:.8px"/>
<g fill="#6699cc"><path d="M575,1434L581,1426L587,1434Z"/><path d="M648,1434L652,1429L658,1434Z"/><path d="M755,1434L760,1430L764,1434Z"/><path d="M820,1434L826,1428L832,1434Z"/><path d="M945,1434L950,1429L955,1434Z"/></g>
<rect x="1062" y="1173" width="168" height="122" fill="#cfcfcf" stroke="#999" style="stroke-width:1px"/>
<rect x="1062" y="1321" width="168" height="61" fill="#cfcfcf" stroke="#999" style="stroke-width:1px"/>
<rect x="1135" y="1333" width="22" height="10" fill="#b0b0d0"/><rect x="1157" y="1333" width="30" height="10" fill="#fff"/><rect x="1187" y="1333" width="22" height="10" fill="#b0b0d0"/>
<rect x="1062" y="1390" width="166" height="66" fill="#fff"/><rect x="1062" y="1390" width="166" height="4" fill="#2b8be0"/>
<g stroke="#888" fill="none" style="stroke-width:.8px"><path d="M1090,1203H1115M1090,1215H1115M1090,1228H1115M1090,1240H1115M1090,1252H1108M1162,1191H1195M1155,1203H1198M1155,1215H1185M1155,1228H1180M1082,1340H1098M1082,1352H1095M1082,1360H1092M1082,1368H1110M1065,1398H1220M1065,1403H1225M1065,1408H1140"/></g>
</g>
<path class="l" stroke-width="9" stroke-linejoin="miter" d="M3212,1414H3008V352H2900"/>
<path d="M2832,352L2908,324L2896,352L2908,380Z"/>
</svg>
</body>
</html>
